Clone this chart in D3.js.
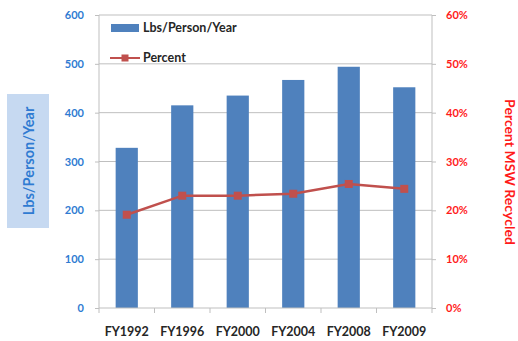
<!DOCTYPE html>
<html>
<head>
<meta charset="utf-8">
<script src="https://cdn.jsdelivr.net/npm/d3@7"></script>
<style>
  body { margin: 0; background: #fff; }
  svg { display: block; font-family: Lato, "Noto Sans", sans-serif; font-weight: bold; }
</style>
</head>
<body>
<svg id="chart" width="518" height="341"></svg>
<script>
// Fiscal years on the category axis
const years = ["FY1992", "FY1996", "FY2000", "FY2004", "FY2008", "FY2009"];
// Municipal solid waste generated, pounds per person per year
const lbsPerPerson = [328, 415, 435, 467, 494, 452];
// Share of municipal solid waste recycled, percent
const percentRecycled = [19.1, 23.0, 23.0, 23.4, 25.4, 24.4];
// Tick values for both value axes
const leftTicks = [0, 100, 200, 300, 400, 500, 600];
const rightTicks = [0, 10, 20, 30, 40, 50, 60];

const svg = d3.select("#chart");
const m = { left: 99, right: 432, top: 15, bottom: 308 };

const x = d3.scaleBand().domain(years).range([m.left, m.right]).paddingInner(0.6).paddingOuter(0.3);
const yL = d3.scaleLinear().domain([0, 600]).range([m.bottom, m.top]);
const yR = d3.scaleLinear().domain([0, 60]).range([m.bottom, m.top]);

const gridColor = "#bfbfbf";
const blue = "#2f7bd2";
const red = "#ff1a1a";

// Horizontal gridlines
svg.append("g").selectAll("line").data(leftTicks.filter(d => d > 0)).join("line")
  .attr("x1", m.left).attr("x2", m.right)
  .attr("y1", d => yL(d)).attr("y2", d => yL(d))
  .attr("stroke", gridColor).attr("stroke-width", 1);

// Bars
svg.append("g").selectAll("rect").data(years).join("rect")
  .attr("x", d => x(d)).attr("width", x.bandwidth())
  .attr("y", (d, i) => yL(lbsPerPerson[i]))
  .attr("height", (d, i) => yL(0) - yL(lbsPerPerson[i]))
  .attr("fill", "#4f81bd");

// Left axis
const axL = svg.append("g").attr("transform", `translate(${m.left},0)`)
  .call(d3.axisLeft(yL).tickValues(leftTicks).tickSize(4).tickPadding(11));
axL.select(".domain").attr("stroke", gridColor).attr("d", `M0,${m.top}V${m.bottom}`);
axL.selectAll(".tick line").attr("stroke", gridColor);
axL.selectAll("text").attr("fill", blue).attr("font-size", 11).attr("font-family", "Lato, sans-serif").attr("font-weight", "bold");

// Right axis
const axR = svg.append("g").attr("transform", `translate(${m.right},0)`)
  .call(d3.axisRight(yR).tickValues(rightTicks).tickSize(4).tickPadding(10).tickFormat(d => d + "%"));
axR.select(".domain").attr("stroke", gridColor).attr("d", `M0,${m.top}V${m.bottom}`);
axR.selectAll(".tick line").attr("stroke", gridColor);
axR.selectAll("text").attr("fill", red).attr("font-size", 11).attr("font-family", "Lato, sans-serif").attr("font-weight", "bold");

// Bottom axis with tick marks between categories
const axB = svg.append("g").attr("transform", `translate(0,${m.bottom})`);
axB.append("line").attr("x1", m.left).attr("x2", m.right).attr("stroke", gridColor);
const step = (m.right - m.left) / years.length;
axB.selectAll("line.sep").data(d3.range(years.length + 1)).join("line").attr("class", "sep")
  .attr("x1", i => m.left + i * step).attr("x2", i => m.left + i * step)
  .attr("y1", 0).attr("y2", 5).attr("stroke", gridColor);
axB.selectAll("text").data(years).join("text")
  .attr("x", d => x(d) + x.bandwidth() / 2).attr("y", 28)
  .attr("text-anchor", "middle").attr("fill", "#262626").attr("font-size", 12.5)
  .text(d => d);

// Percent line with square markers
const px = d => x(d) + x.bandwidth() / 2;
svg.append("path").datum(years)
  .attr("fill", "none").attr("stroke", "#c0504d").attr("stroke-width", 2.5)
  .attr("d", d3.line().x(px).y((d, i) => yR(percentRecycled[i])));
svg.append("g").selectAll("rect").data(years).join("rect")
  .attr("x", d => px(d) - 4).attr("y", (d, i) => yR(percentRecycled[i]) - 4)
  .attr("width", 8).attr("height", 8).attr("fill", "#c0504d");

// Legend
const lg = svg.append("g");
lg.append("rect").attr("x", 111).attr("y", 24).attr("width", 28).attr("height", 8).attr("fill", "#4f81bd");
lg.append("text").attr("x", 143).attr("y", 32).attr("font-size", 12.5).attr("fill", "#262626").text("Lbs/Person/Year");
lg.append("line").attr("x1", 110).attr("x2", 140).attr("y1", 58).attr("y2", 58).attr("stroke", "#c0504d").attr("stroke-width", 2);
lg.append("rect").attr("x", 121.5).attr("y", 54.5).attr("width", 7).attr("height", 7).attr("fill", "#c0504d");
lg.append("text").attr("x", 143).attr("y", 62).attr("font-size", 12.5).attr("fill", "#262626").text("Percent");

// Left axis title on a tinted panel
svg.append("rect").attr("x", 7).attr("y", 94).attr("width", 42).attr("height", 134).attr("fill", "#c6d9f1");
svg.append("text").attr("transform", "translate(34,161) rotate(-90)")
  .attr("text-anchor", "middle").attr("font-size", 14.5).attr("fill", blue).text("Lbs/Person/Year");

// Right axis title
svg.append("text").attr("transform", "translate(505,172) rotate(90)")
  .attr("text-anchor", "middle").attr("font-size", 14).attr("fill", red).text("Percent MSW Recycled");
</script>
</body>
</html>
